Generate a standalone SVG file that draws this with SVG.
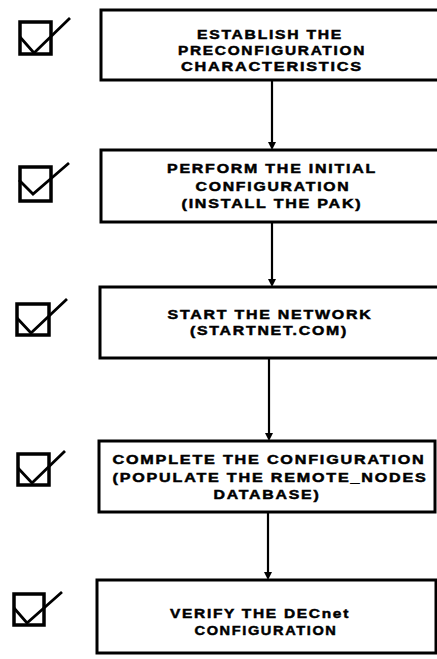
<svg xmlns="http://www.w3.org/2000/svg" width="437" height="659" viewBox="0 0 437 659">
<style>
.box{fill:#fff;stroke:#000;stroke-width:3}
.t{font-family:"Liberation Sans",Arial,sans-serif;font-weight:bold;font-size:13.5px;letter-spacing:1.5px;text-anchor:middle;fill:#000;stroke:#000;stroke-width:0.5}
.ic{fill:none;stroke:#000;stroke-width:3.5;stroke-linejoin:miter}
.ck{fill:none;stroke:#000;stroke-width:2.8;stroke-linejoin:miter}
.ln{stroke:#000;stroke-width:2.2;fill:none}
</style>
<rect width="437" height="659" fill="#fff"/>
<g id="connectors">
<line class="ln" x1="272" y1="80" x2="272" y2="143"/><path d="M268,142 L276,142 L272,150 Z"/>
<line class="ln" x1="272" y1="222" x2="272" y2="280"/><path d="M268,279 L276,279 L272,287 Z"/>
<line class="ln" x1="269" y1="358" x2="269" y2="434"/><path d="M265,433 L273,433 L269,441 Z"/>
<line class="ln" x1="268" y1="512" x2="268" y2="573"/><path d="M264,572 L272,572 L268,580 Z"/>
</g>
<g id="node1">
<rect class="box" x="101" y="10" width="340" height="70"/>
<text class="t" x="270" y="39" textLength="146" lengthAdjust="spacingAndGlyphs">ESTABLISH THE</text>
<text class="t" x="272" y="55" textLength="188" lengthAdjust="spacingAndGlyphs">PRECONFIGURATION</text>
<text class="t" x="272" y="71" textLength="182" lengthAdjust="spacingAndGlyphs">CHARACTERISTICS</text>
</g>
<g id="node2">
<rect class="box" x="101" y="150" width="340" height="72"/>
<text class="t" x="272" y="173" textLength="210" lengthAdjust="spacingAndGlyphs">PERFORM THE INITIAL</text>
<text class="t" x="273" y="191" textLength="155" lengthAdjust="spacingAndGlyphs">CONFIGURATION</text>
<text class="t" x="272" y="208" textLength="181" lengthAdjust="spacingAndGlyphs">(INSTALL THE PAK)</text>
</g>
<g id="node3">
<rect class="box" x="100" y="287" width="341" height="71"/>
<text class="t" x="270" y="319" textLength="205" lengthAdjust="spacingAndGlyphs">START THE NETWORK</text>
<text class="t" x="269" y="335" textLength="158" lengthAdjust="spacingAndGlyphs">(STARTNET.COM)</text>
</g>
<g id="node4">
<rect class="box" x="99" y="441" width="336" height="71"/>
<text class="t" x="269" y="464" textLength="313" lengthAdjust="spacingAndGlyphs">COMPLETE THE CONFIGURATION</text>
<text class="t" x="270" y="482" textLength="315" lengthAdjust="spacingAndGlyphs">(POPULATE THE REMOTE_NODES</text>
<text class="t" x="267" y="499" textLength="107" lengthAdjust="spacingAndGlyphs">DATABASE)</text>
</g>
<g id="node5">
<rect class="box" x="97" y="580" width="339" height="73"/>
<text class="t" x="260" y="618" textLength="180" lengthAdjust="spacingAndGlyphs">VERIFY THE DECnet</text>
<text class="t" x="266" y="635" textLength="143" lengthAdjust="spacingAndGlyphs">CONFIGURATION</text>
</g>
<g id="check1"><rect class="ic" x="20" y="22" width="31" height="32"/><polyline class="ck" points="20,37 34,53 70,18"/></g>
<g id="check2"><rect class="ic" x="20" y="167" width="31" height="34"/><polyline class="ck" points="19,180 33,194 69,163"/></g>
<g id="check3"><rect class="ic" x="17" y="304" width="32" height="31"/><polyline class="ck" points="17,318 31,333 67,299"/></g>
<g id="check4"><rect class="ic" x="18" y="454" width="31" height="31"/><polyline class="ck" points="18,468 32,483 65,451"/></g>
<g id="check5"><rect class="ic" x="14" y="594" width="30" height="31"/><polyline class="ck" points="14,608 27,623 62,592"/></g>
</svg>
